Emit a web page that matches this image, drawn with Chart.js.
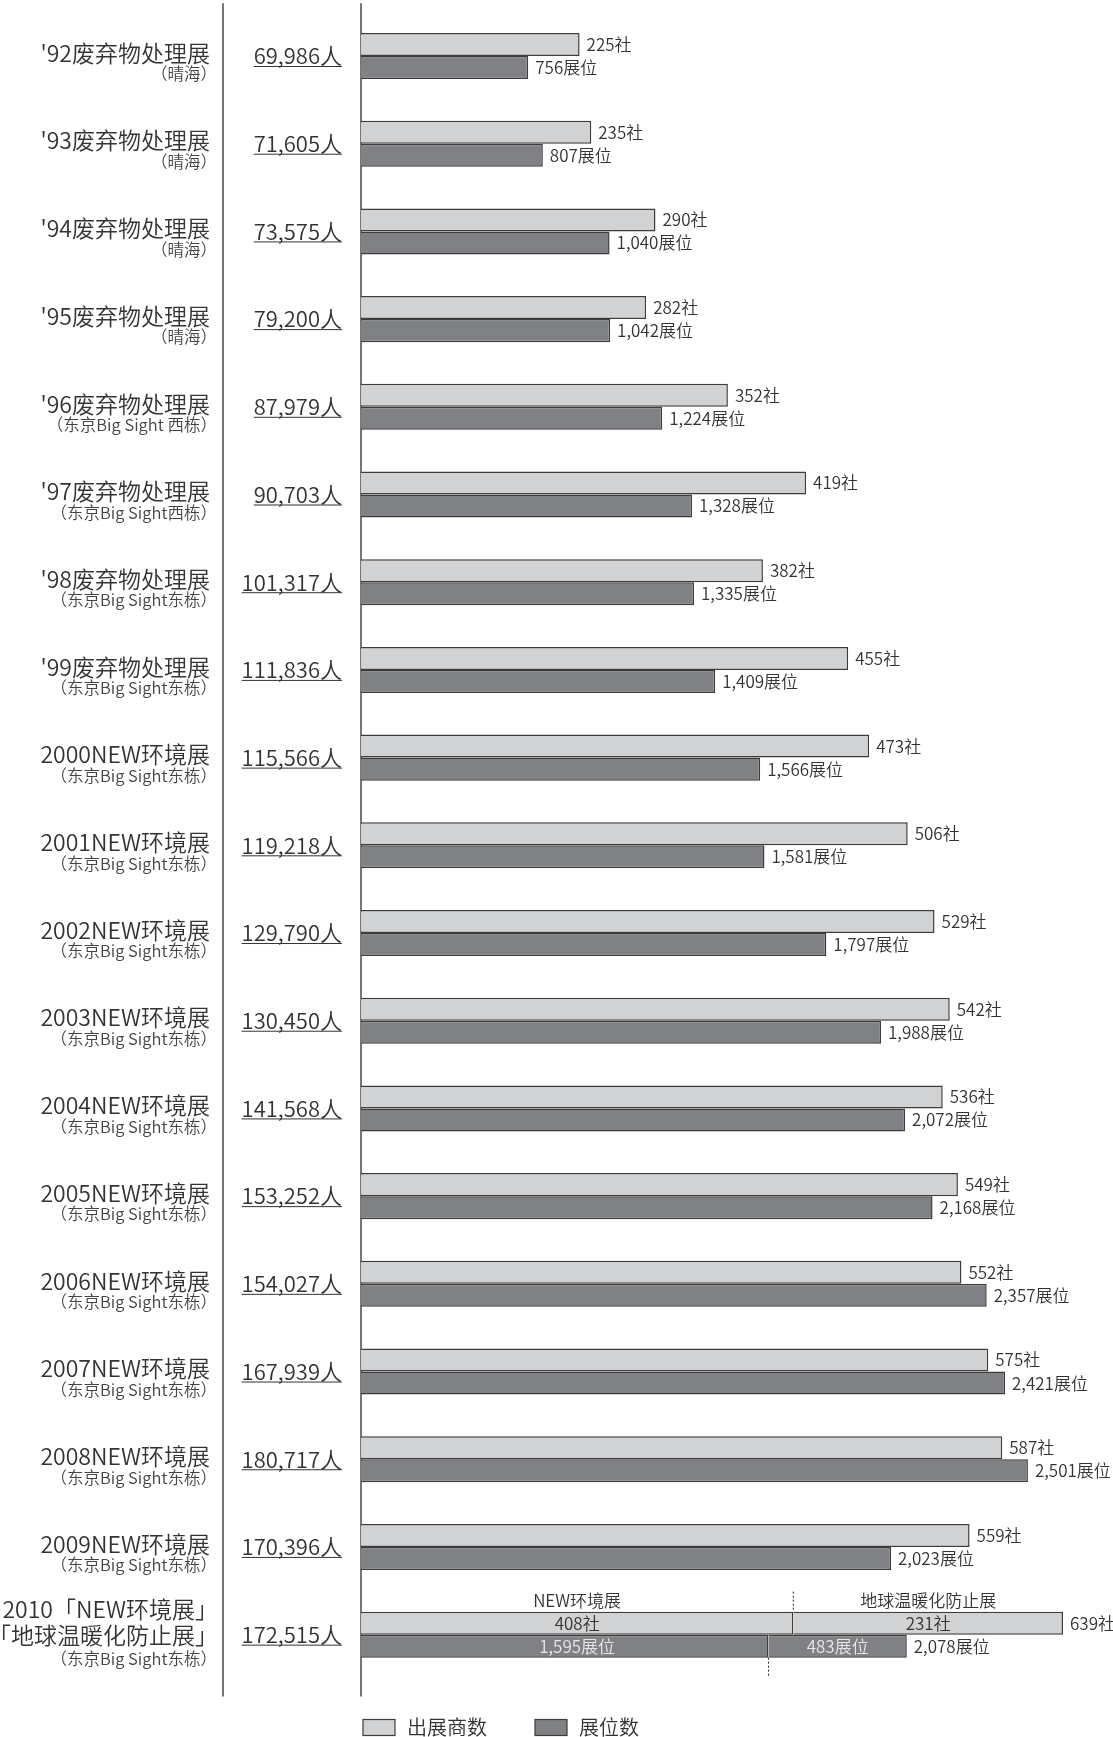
<!DOCTYPE html>
<html>
<head>
<meta charset="utf-8">
<script src="https://cdn.jsdelivr.net/npm/chart.js@4/dist/chart.umd.min.js"></script>
<style>
  html, body { margin: 0; padding: 0; background: #fff; }
  #wrap { width: 1113px; height: 1737px; }
</style>
</head>
<body>
<div id="wrap"><canvas id="chart" width="1113" height="1737"></canvas></div>
<script>
// 展会名称
const showNames = [
  "'92废弃物处理展", "'93废弃物处理展", "'94废弃物处理展", "'95废弃物处理展",
  "'96废弃物处理展", "'97废弃物处理展", "'98废弃物处理展", "'99废弃物处理展",
  "2000NEW环境展", "2001NEW环境展", "2002NEW环境展", "2003NEW环境展",
  "2004NEW环境展", "2005NEW环境展", "2006NEW环境展", "2007NEW环境展",
  "2008NEW环境展", "2009NEW环境展",
  ["2010「NEW环境展」", "「地球温暖化防止展」"]
];
// 会场
const venues = [
  "（晴海）", "（晴海）", "（晴海）", "（晴海）",
  "（东京Big Sight 西栋）", "（东京Big Sight西栋）",
  "（东京Big Sight东栋）", "（东京Big Sight东栋）", "（东京Big Sight东栋）",
  "（东京Big Sight东栋）", "（东京Big Sight东栋）", "（东京Big Sight东栋）",
  "（东京Big Sight东栋）", "（东京Big Sight东栋）", "（东京Big Sight东栋）",
  "（东京Big Sight东栋）", "（东京Big Sight东栋）", "（东京Big Sight东栋）",
  "（东京Big Sight东栋）"
];
// 入场人数
const visitors = [69986, 71605, 73575, 79200, 87979, 90703, 101317, 111836, 115566,
  119218, 129790, 130450, 141568, 153252, 154027, 167939, 180717, 170396, 172515];
// 出展商数 (2010 = 合计)
const exhibitors = [225, 235, 290, 282, 352, 419, 382, 455, 473, 506, 529, 542, 536,
  549, 552, 575, 587, 559, 639];
// 展位数 (2010 = 合计)
const booths = [756, 807, 1040, 1042, 1224, 1328, 1335, 1409, 1566, 1581, 1797, 1988,
  2072, 2168, 2357, 2421, 2501, 2023, 2078];
// 2010 两个展会的内訳
const parts2010 = ["NEW环境展", "地球温暖化防止展"];
const exhibitors2010 = [408, 231];
const booths2010 = [1595, 483];

const FONT = "'Noto Sans CJK SC', 'Noto Sans', sans-serif";
const TEXT = '#333';
const LIGHT = '#d1d2d4';
const DARK = '#808184';
const EDGE = '#3c3c3c';
const last = showNames.length - 1;
const fmt = v => v.toLocaleString('en-US');

// 出展商数: 2010 只画 NEW环境展 部分, 另一部分浮动条
const exMain = exhibitors.map((v, i) => i === last ? exhibitors2010[0] : v);
const exExtra = exhibitors.map((v, i) => i === last ? [exhibitors2010[0], exhibitors2010[0] + exhibitors2010[1]] : null);
const bMain = booths.map((v, i) => i === last ? booths2010[0] : v);
const bExtra = booths.map((v, i) => i === last ? [booths2010[0], booths2010[0] + booths2010[1]] : null);

const X_MIN = 37.8, X_MAX = 645;
const X2_MIN = 172, X2_MAX = 2648;

function text(ctx, s, x, y, size, align, color) {
  ctx.font = '350 ' + size + 'px ' + FONT;
  ctx.textAlign = align;
  ctx.textBaseline = 'middle';
  ctx.fillStyle = color || TEXT;
  ctx.fillText(s, x, y);
}

const drawPlugin = {
  id: 'drawPlugin',
  beforeDatasetsDraw(chart) {
    const { ctx, chartArea, scales } = chart;
    const top = chartArea.top - 9, bottom = chartArea.bottom + 18;
    ctx.save();
    ctx.strokeStyle = '#4a4a4a';
    ctx.lineWidth = 1.5;
    ctx.beginPath();
    ctx.moveTo(223, top); ctx.lineTo(223, bottom);
    const ax = scales.x.getPixelForValue(X_MIN);
    ctx.moveTo(ax, top); ctx.lineTo(ax, bottom);
    ctx.stroke();
    ctx.restore();
  },
  afterDatasetsDraw(chart) {
    const { ctx, chartArea } = chart;
    const yS = chart.scales.y;
    const m0 = chart.getDatasetMeta(0).data;
    const m1 = chart.getDatasetMeta(1).data;
    const m2 = chart.getDatasetMeta(2).data;
    const m3 = chart.getDatasetMeta(3).data;
    ctx.save();

    showNames.forEach((name, i) => {
      const cy = yS.getPixelForValue(i);
      // 左侧展会名
      if (Array.isArray(name)) {
        text(ctx, name[0], 218, cy - 25, 23, 'right');
        text(ctx, name[1], 218, cy + 1, 23, 'right');
        text(ctx, venues[i], 217, cy + 24, 16.5, 'right', '#444');
      } else {
        text(ctx, name, 210, cy - 3, 23, 'right');
        text(ctx, venues[i], 217, cy + 18, 16.5, 'right', '#444');
      }
      // 入场人数 + 下划线
      const vs = fmt(visitors[i]) + '人';
      text(ctx, vs, 342, cy, 22, 'right');
      const w = ctx.measureText(vs).width;
      ctx.strokeStyle = TEXT;
      ctx.lineWidth = 1;
      ctx.beginPath();
      ctx.moveTo(342 - w, cy + 10.5);
      ctx.lineTo(342, cy + 10.5);
      ctx.stroke();

      if (i !== last) {
        text(ctx, fmt(exhibitors[i]) + '社', m0[i].x + 7, m0[i].y, 17, 'left');
        text(ctx, fmt(booths[i]) + '展位', m2[i].x + 7, m2[i].y, 17, 'left');
      }
    });

    // 2010 特别标注
    const a = m0[last], b = m1[last], c = m2[last], d = m3[last];
    const c1 = (a.base + a.x) / 2, c2 = (b.base + b.x) / 2;
    text(ctx, parts2010[0], c1, a.y - 22.5, 17, 'center');
    text(ctx, parts2010[1], c2, a.y - 22.5, 17, 'center');
    text(ctx, fmt(exhibitors2010[0]) + '社', c1, a.y, 17, 'center');
    text(ctx, fmt(exhibitors2010[1]) + '社', c2, b.y, 17, 'center');
    text(ctx, fmt(exhibitors[last]) + '社', b.x + 7, b.y, 17, 'left');
    text(ctx, fmt(booths2010[0]) + '展位', c1, c.y, 17, 'center', '#e8e8e8');
    text(ctx, fmt(booths2010[1]) + '展位', (d.base + d.x) / 2, d.y, 17, 'center', '#e8e8e8');
    text(ctx, fmt(booths[last]) + '展位', d.x + 7, d.y, 17, 'left');

    ctx.strokeStyle = '#222';
    ctx.lineWidth = 1;
    ctx.setLineDash([2, 2]);
    ctx.beginPath();
    ctx.moveTo(a.x, a.y - a.height / 2 - 20);
    ctx.lineTo(a.x, a.y - a.height / 2);
    ctx.moveTo(c.x, c.y + c.height / 2);
    ctx.lineTo(c.x, c.y + c.height / 2 + 20);
    ctx.stroke();
    ctx.setLineDash([]);

    // 图例
    const ly = chartArea.bottom + 41;
    const items = [
      { label: chart.data.datasets[0].label, color: LIGHT, x: 363 },
      { label: chart.data.datasets[2].label, color: DARK, x: 535 }
    ];
    items.forEach(it => {
      ctx.fillStyle = it.color;
      ctx.fillRect(it.x, ly, 32, 16);
      ctx.strokeStyle = EDGE;
      ctx.lineWidth = 1.2;
      ctx.strokeRect(it.x, ly, 32, 16);
      text(ctx, it.label, it.x + 44, ly + 8, 20, 'left');
    });
    ctx.restore();
  }
};

new Chart(document.getElementById('chart'), {
  type: 'bar',
  data: {
    labels: showNames.map(n => Array.isArray(n) ? n.join('') : n),
    datasets: [
      { label: '出展商数', data: exMain, xAxisID: 'x', stack: 'a', base: X_MIN,
        backgroundColor: LIGHT, borderColor: EDGE, borderWidth: 1.5 },
      { label: '出展商数(地球温暖化防止展)', data: exExtra, xAxisID: 'x', stack: 'a',
        backgroundColor: LIGHT, borderColor: EDGE, borderWidth: 1.5 },
      { label: '展位数', data: bMain, xAxisID: 'x2', stack: 'b', base: X2_MIN,
        backgroundColor: DARK, borderColor: EDGE, borderWidth: 1.5 },
      { label: '展位数(地球温暖化防止展)', data: bExtra, xAxisID: 'x2', stack: 'b',
        backgroundColor: DARK, borderColor: EDGE, borderWidth: 1.5 }
    ]
  },
  options: {
    indexAxis: 'y',
    responsive: false,
    animation: false,
    devicePixelRatio: 1,
    categoryPercentage: 0.525,
    barPercentage: 1,
    layout: { padding: { left: 361, right: 43, top: 12.15, bottom: 58.5 } },
    scales: {
      y: { display: false },
      x: { display: false, stacked: false, min: X_MIN, max: X_MAX },
      x2: { display: false, stacked: false, min: X2_MIN, max: X2_MAX, position: 'bottom' }
    },
    plugins: {
      legend: { display: false },
      tooltip: { enabled: false }
    }
  },
  plugins: [drawPlugin]
});
</script>
</body>
</html>
